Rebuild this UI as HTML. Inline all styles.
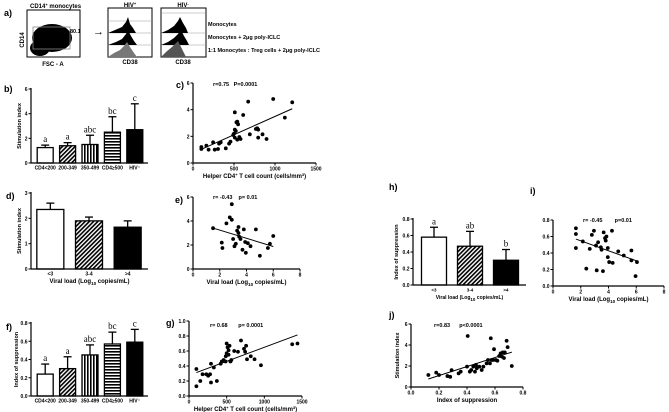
<!DOCTYPE html>
<html><head><meta charset="utf-8"><style>
html,body{margin:0;padding:0;background:#fff;}
svg{display:block;font-family:"Liberation Sans",sans-serif;font-weight:bold;}
</style></head><body>
<svg id="fig" width="669" height="412" viewBox="0 0 669 412" xmlns="http://www.w3.org/2000/svg">
<defs>
<pattern id="diag" patternUnits="userSpaceOnUse" width="3" height="3" patternTransform="rotate(45)"><rect width="3" height="3" fill="#fff"/><rect width="1.6" height="3" fill="#000"/></pattern>
<pattern id="vert" patternUnits="userSpaceOnUse" width="3" height="3"><rect width="3" height="3" fill="#fff"/><rect width="1.6" height="3" fill="#000"/></pattern>
<pattern id="horiz" patternUnits="userSpaceOnUse" width="3" height="3"><rect width="3" height="3" fill="#fff"/><rect width="3" height="1.6" fill="#000"/></pattern>
</defs>
<g>
<text x="4" y="16" font-size="9">a)</text>
<text x="30" y="8" font-size="6">CD14<tspan dy="-2" font-size="4">+</tspan><tspan dy="2"> monocytes</tspan></text>
<rect x="27" y="10" width="53" height="47" fill="#fff" stroke="#000" stroke-width="1"/>
<ellipse cx="52" cy="38" rx="20" ry="14" fill="#000"/>
<ellipse cx="40" cy="48" rx="10" ry="8" fill="#000"/>
<rect x="33" y="27" width="37" height="22" fill="none" stroke="#888" stroke-width="0.8"/>
<text x="70" y="33" font-size="5.5">80.1</text>
<text x="24" y="40" font-size="6" transform="rotate(-90 24 40)" text-anchor="middle">CD14</text>
<text x="53" y="66" font-size="6" text-anchor="middle">FSC - A</text>
<text x="93" y="35" font-size="11">→</text>
<text x="130" y="7" font-size="6" text-anchor="middle">HIV<tspan dy="-2" font-size="4">+</tspan></text>
<rect x="108" y="8" width="44" height="49" fill="#fff" stroke="#000"/>
<line x1="108" y1="21" x2="152" y2="21" stroke="#999" stroke-width="0.6"/>
<line x1="108" y1="33" x2="152" y2="33" stroke="#999" stroke-width="0.6"/>
<line x1="108" y1="45" x2="152" y2="45" stroke="#999" stroke-width="0.6"/>
<path d="M108 33 L115 30 L122 27 L126 22 L128 17 L130 24 L133 28 L136 33 Z" fill="#000"/>
<path d="M108 45 L116 42 L122 39 L126 34 L128 30 L131 36 L134 41 L137 45 Z" fill="#000"/>
<path d="M108 57 L114 53 L120 50 L124 46 L127 42 L130 47 L134 53 L137 57 Z" fill="#777"/>
<text x="130" y="64" font-size="6" text-anchor="middle">CD38</text>
<text x="183" y="7" font-size="6" text-anchor="middle">HIV<tspan dy="-2" font-size="4">-</tspan></text>
<rect x="161" y="8" width="45" height="49" fill="#fff" stroke="#000"/>
<line x1="161" y1="13" x2="206" y2="13" stroke="#999" stroke-width="0.6"/>
<line x1="161" y1="33" x2="206" y2="33" stroke="#999" stroke-width="0.6"/>
<line x1="161" y1="45" x2="206" y2="45" stroke="#999" stroke-width="0.6"/>
<path d="M161 33 L168 30 L174 26 L178 21 L180 17 L183 23 L186 28 L188 33 Z" fill="#000"/>
<path d="M161 45 L168 42 L174 38 L178 34 L181 30 L184 36 L187 41 L189 45 Z" fill="#000"/>
<path d="M161 57 L166 52 L172 47 L176 43 L178 41 L181 47 L184 53 L186 57 Z" fill="#555"/>
<text x="183" y="64" font-size="6" text-anchor="middle">CD38</text>
<text x="208" y="26" font-size="5.5">Monocytes</text>
<text x="208" y="39" font-size="5.5">Monocytes + 2μg poly-ICLC</text>
<text x="208" y="52" font-size="5.5">1:1 Monocytes : Treg cells + 2μg poly-ICLC</text>
</g>
</svg>
<script>
// ---- data ----
const bCats = ["CD4<200","200-349","350-499","CD4≥500","HIV⁻"];
const bVals = [1.25,1.4,1.5,2.5,2.7];
const bErr = [1.45,1.65,2.25,3.75,4.8];
const bLetters = ["a","a","abc","bc","c"];
const dCats = ["<3","3-4",">4"];
const dVals = [2.35,1.9,1.65];
const dErr = [2.6,2.05,1.9];
const fCats = ["CD4<200","200-349","350-499","CD4≥500","HIV⁻"];
const fVals = [0.24,0.3,0.45,0.57,0.59];
const fErr = [0.35,0.43,0.56,0.7,0.73];
const fLetters = ["a","a","abc","bc","c"];
const hCats = ["<3","3-4",">4"];
const hVals = [0.58,0.47,0.30];
const hErr = [0.70,0.65,0.43];
const hLetters = ["a","ab","b"];
const cX = [102,102,163,190,245,265,305,318,338,400,440,457,490,500,510,530,540,550,510,522,510,540,565,580,612,673,693,766,783,795,795,848,897,978,1120,1210];
const cY = [1.2,1.05,1.3,1.0,1.55,1.0,1.05,1.45,1.55,1.1,1.45,1.6,2.1,2.2,3.8,3.05,3.1,2.9,2.5,2.4,1.9,1.75,1.95,1.8,3.6,4.6,2.15,2.55,2.6,2.5,1.9,2.15,1.8,4.8,3.4,4.55];
const eX = [1.5,2.2,2.15,2.5,2.75,2.9,2.9,3.0,3.1,3.2,3.3,3.4,3.4,3.45,3.55,3.7,3.8,3.9,3.95,4.1,4.3,4.7,5.0,5.6,5.75,6.0];
const eY = [3.4,1.75,2.2,3.8,4.3,5.4,4.1,2.5,1.9,2.1,3.2,3.0,3.5,2.7,2.5,1.6,3.3,2.25,1.35,2.15,1.9,3.3,1.1,1.75,2.1,2.75];
const gX = [98,98,150,180,230,255,280,292,292,330,370,420,435,460,485,488,500,500,512,525,525,538,550,562,600,650,690,730,758,745,770,820,870,955,1370,1440];
const gY = [0.13,0.36,0.2,0.29,0.29,0.27,0.29,0.43,0.18,0.38,0.2,0.43,0.46,0.48,0.46,0.53,0.57,0.7,0.65,0.61,0.55,0.67,0.46,0.48,0.6,0.59,0.74,0.63,0.67,0.59,0.49,0.53,0.49,0.41,0.69,0.7];
const iX = [1.65,1.65,1.65,2.15,2.4,2.65,2.8,2.95,3.1,3.15,3.25,3.45,3.5,3.6,3.65,3.75,3.8,3.85,3.95,3.95,4.05,4.25,4.3,4.7,5.1,5.65,5.65,5.95,6.05];
const iY = [0.70,0.63,0.46,0.54,0.21,0.45,0.62,0.67,0.49,0.19,0.53,0.47,0.44,0.18,0.65,0.58,0.55,0.6,0.35,0.46,0.29,0.67,0.28,0.42,0.37,0.43,0.31,0.12,0.29];
const jX = [0.124,0.18,0.2,0.26,0.28,0.29,0.34,0.355,0.4,0.405,0.42,0.43,0.445,0.457,0.464,0.47,0.488,0.505,0.517,0.54,0.55,0.564,0.576,0.57,0.588,0.593,0.607,0.617,0.63,0.64,0.648,0.655,0.664,0.67,0.683,0.69,0.72];
const jY = [1.14,1.37,1.14,1.04,0.97,1.6,1.3,1.46,1.94,4.86,1.46,1.62,1.94,1.46,2.1,1.78,1.94,1.62,1.94,2.25,2.57,2.25,2.57,4.64,2.57,3.6,2.57,2.5,2.95,3.2,2.9,3.3,2.76,3.3,4.4,3.8,2.0];
const bTicks = [0,2,4,6], dTicks = [0,1,2,3], fTicks = [0,0.2,0.4,0.6,0.8];
const cXTicks = [0,500,1000,1500], eXTicks = [0,2,4,6,8], gYTicks = [0,0.2,0.4,0.6,0.8,1.0];
const jXTicks = [0,0.2,0.4,0.6,0.8];

const svg = document.getElementById('fig');
const NS = 'http://www.w3.org/2000/svg';
function mk(tag, attrs, parent, txt){
  const e = document.createElementNS(NS, tag);
  for (const k in attrs) e.setAttribute(k, attrs[k]);
  if (txt !== undefined) e.textContent = txt;
  (parent||svg).appendChild(e);
  return e;
}
function lin(d0,d1,r0,r1){ return v => r0 + (v-d0)/(d1-d0)*(r1-r0); }
function fmt(v, dec){ return dec ? v.toFixed(dec) : String(v); }

function yAxis(g, x, sy, ticks, dec, y0, y1){
  mk('line',{x1:x,y1:y0,x2:x,y2:y1,stroke:'#000','stroke-width':1.2},g);
  ticks.forEach(t=>{
    mk('line',{x1:x-2.5,y1:sy(t),x2:x,y2:sy(t),stroke:'#000','stroke-width':1},g);
    const lb = mk('text',{x:x-3.5,y:sy(t)+2,'font-size':5,'text-anchor':'end'},g,fmt(t,dec));
    
    
  });
}
function xAxis(g, y, sx, ticks, dec, x0, x1){
  mk('line',{x1:x0,y1:y,x2:x1,y2:y,stroke:'#000','stroke-width':1.2},g);
  ticks.forEach(t=>{
    mk('line',{x1:sx(t),y1:y,x2:sx(t),y2:y+2.5,stroke:'#000','stroke-width':1},g);
    const lb = mk('text',{x:sx(t),y:y+7.5,'font-size':5,'text-anchor':'middle'},g,fmt(t,dec));
    
    
  });
}
function yTitle(g, x, y, txt){
  const t = mk('text',{x:x,y:y,'font-size':5.5,'text-anchor':'middle',transform:`rotate(-90 ${x} ${y})`},g,txt);
  
  
}
function label(g,x,y,txt){
  const t = mk('text',{x:x,y:y,'font-size':9},g,txt);
  
  
}

function barPanel(name, o){
  const g = mk('g',{});
  
  
  const sy = lin(0, o.ymax, o.y0, o.y1);
  const step = (o.bx1 - o.bx0)/o.cats.length;
  o.cats.forEach((c,i)=>{
    const cx = o.bx0 + step*(i+0.5);
    const top = sy(o.vals[i]), et = sy(o.err[i]);
    mk('line',{x1:cx,y1:top,x2:cx,y2:et,stroke:'#000','stroke-width':1.3},g);
    mk('line',{x1:cx-4,y1:et,x2:cx+4,y2:et,stroke:'#000','stroke-width':1.3},g);
    const r = mk('rect',{x:cx-o.bw/2,y:top,width:o.bw,height:o.y0-top,fill:o.fills[i],stroke:'#000','stroke-width':1.3},g);
    
    
    const t = mk('text',{x:cx,y:o.y0+6.5,'font-size':o.catSize||5,'text-anchor':'middle'},g,c);
    
    
    if (o.letters){
      const l = mk('text',{x:cx,y:et-3,'font-size':9,'font-weight':'normal','font-family':'Liberation Serif, serif','text-anchor':'middle'},g,o.letters[i]);
      
      
    }
  });
  yAxis(g, o.ax, sy, o.ticks, o.dec, o.y0, o.y1-1);
  mk('line',{x1:o.ax,y1:o.y0,x2:o.axEnd,y2:o.y0,stroke:'#000','stroke-width':1.2},g);
  yTitle(g, o.tx, (o.y0+o.y1)/2, o.ytitle);
  if (o.xtitle){
    const t = mk('text',{x:(o.ax+o.axEnd)/2,y:o.y0+14,'font-size':o.xtSize||6,'text-anchor':'middle'},g);
    t.innerHTML = o.xtitle;
    
    
  }
  label(g,o.lx,o.ly,o.lab);
}

function scatterPanel(name, o){
  const g = mk('g',{});
  
  
  const sx = lin(o.xd[0], o.xd[1], o.x0, o.x1);
  const sy = lin(o.yd[0], o.yd[1], o.y0, o.y1);
  yAxis(g, o.x0, sy, o.yticks, o.ydec, o.y0, o.y1);
  xAxis(g, o.y0, sx, o.xticks, o.xdec, o.x0, o.x1);
  o.X.forEach((x,i)=>{
    const c = mk('circle',{cx:sx(x),cy:sy(o.Y[i]),r:1.9,fill:'#000'},g);
    
    
  });
  const n=o.X.length; let mx=0,my=0; o.X.forEach((x,i)=>{mx+=x;my+=o.Y[i];}); mx/=n; my/=n;
  let sxy=0,sxx=0; o.X.forEach((x,i)=>{sxy+=(x-mx)*(o.Y[i]-my);sxx+=(x-mx)*(x-mx);});
  const b=sxy/sxx, a=my-b*mx;
  const xa=Math.min(...o.X), xb=Math.max(...o.X);
  const rl = mk('line',{x1:sx(xa),y1:sy(a+b*xa),x2:sx(xb),y2:sy(a+b*xb),stroke:'#000','stroke-width':1},g);
  
  
  const an = mk('text',{x:o.annX,y:o.annY,'font-size':5.5,style:'white-space:pre'},g,o.ann);
  
  
  if (o.ytitle) yTitle(g, o.tx, (o.y0+o.y1)/2, o.ytitle);
  const t = mk('text',{x:(o.x0+o.x1)/2,y:o.y0+15,'font-size':6,'text-anchor':'middle'},g);
  t.innerHTML = o.xtitle;
  
  
  label(g,o.lx,o.ly,o.lab);
}

const VL = 'Viral load (Log<tspan dy="2" font-size="4.5">10</tspan><tspan dy="-2"> copies/mL)</tspan>';
const CD4 = 'Helper CD4<tspan dy="-2" font-size="4">+</tspan><tspan dy="2"> T cell count (cells/mm</tspan><tspan dy="-2" font-size="4">3</tspan><tspan dy="2">)</tspan>';

barPanel('panel-b',{cats:bCats,vals:bVals,err:bErr,letters:bLetters,ymax:6,y0:163,y1:89,bx0:34,bx1:146,bw:16,
  fills:['#fff','url(#diag)','url(#vert)','url(#horiz)','#000'],ax:31,axEnd:148,ticks:bTicks,dec:0,tx:21,ytitle:'Stimulation index',lx:4,ly:92,lab:'b)'});
barPanel('panel-d',{cats:dCats,vals:dVals,err:dErr,ymax:3,y0:269,y1:193,bx0:31,bx1:147,bw:27,
  fills:['#fff','url(#diag)','#000'],ax:31,axEnd:148,ticks:dTicks,dec:0,tx:21,ytitle:'Stimulation index',xtitle:VL,lx:6,ly:199,lab:'d)'});
barPanel('panel-f',{cats:fCats,vals:fVals,err:fErr,letters:fLetters,ymax:0.8,y0:396,y1:323,bx0:34,bx1:146,bw:16,
  fills:['#fff','url(#diag)','url(#vert)','url(#horiz)','#000'],ax:31,axEnd:148,ticks:fTicks,dec:1,tx:18,ytitle:'Index of suppression',lx:6,ly:330,lab:'f)'});
barPanel('panel-h',{cats:hCats,vals:hVals,err:hErr,letters:hLetters,ymax:0.8,y0:285,y1:219,bx0:416,bx1:524,bw:25,
  fills:['#fff','url(#diag)','#000'],ax:413,axEnd:526,ticks:fTicks,dec:1,tx:398,ytitle:'Index of suppression',xtitle:VL,xtSize:5,catSize:4.5,lx:389,ly:190,lab:'h)'});

scatterPanel('panel-c',{X:cX,Y:cY,xd:[0,1500],yd:[0,6],x0:193,x1:316,y0:163,y1:83,xticks:cXTicks,yticks:bTicks,xdec:0,ydec:0,
  ann:'r=0.75   P=0.0001',annX:213,annY:86,xtitle:CD4,lx:176,ly:88,lab:'c)'});
scatterPanel('panel-e',{X:eX,Y:eY,xd:[0,8],yd:[0,6],x0:193,x1:300,y0:269,y1:197,xticks:eXTicks,yticks:bTicks,xdec:0,ydec:0,
  ann:'r= -0.43    p= 0.01',annX:213,annY:199,xtitle:VL,lx:175,ly:203,lab:'e)'});
scatterPanel('panel-g',{X:gX,Y:gY,xd:[0,1500],yd:[0,1.0],x0:189,x1:302,y0:396,y1:321,xticks:cXTicks,yticks:gYTicks,xdec:0,ydec:1,
  ann:'r= 0.68       p= 0.0001',annX:210,annY:327,xtitle:CD4,lx:166,ly:326,lab:'g)'});
scatterPanel('panel-i',{X:iX,Y:iY,xd:[0,8],yd:[0,0.8],x0:553,x1:664,y0:286,y1:220,xticks:eXTicks,yticks:fTicks,xdec:0,ydec:1,
  ann:'r= -0.45        p=0.01',annX:583,annY:222,xtitle:VL,lx:530,ly:194,lab:'i)'});
scatterPanel('panel-j',{X:jX,Y:jY,xd:[0,0.8],yd:[0,6],x0:411,x1:523,y0:387,y1:324,xticks:jXTicks,yticks:bTicks,xdec:1,ydec:0,
  ann:'r=0.83      p<0.0001',annX:434,annY:327,ytitle:'Stimulation index',tx:399,xtitle:'Index of suppression',lx:389,ly:318,lab:'j)'});
</script>
</body></html>
